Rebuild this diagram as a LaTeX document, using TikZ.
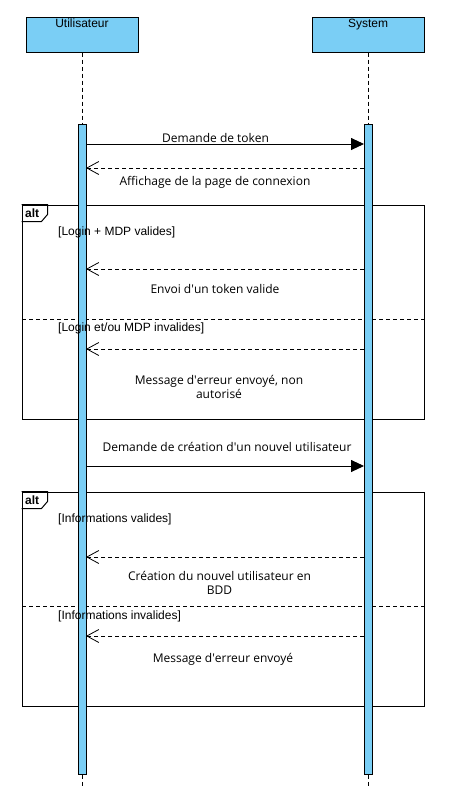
\documentclass[tikz,border=0pt]{standalone}
\usepackage{fontspec}
\setmainfont{Open Sans}
\newfontfamily\arialfont{Liberation Sans}
\usetikzlibrary{arrows.meta}
\definecolor{barblue}{RGB}{122,206,245}
\tikzset{
  actor/.style={draw, fill=barblue, minimum width=112pt, minimum height=35pt, inner sep=0pt, line width=1pt},
  actorlbl/.style={anchor=north, inner sep=2.5pt, font=\arialfont\fontsize{12}{14}\selectfont},
  actbar/.style={draw, fill=barblue, minimum width=8pt, minimum height=650pt, inner sep=0pt, line width=0.8pt},
  life/.style={dashed, dash pattern=on 4pt off 3pt, line width=0.8pt},
  call/.style={line width=0.9pt, -{Triangle[length=13pt,width=12pt]}},
  reply/.style={line width=0.8pt, dash pattern=on 4pt off 3pt, -{Straight Barb[length=12pt,width=13pt,line width=0.8pt]}},
  msglbl/.style={inner sep=0pt, align=center, font=\fontsize{12}{14}\selectfont},
  guard/.style={anchor=west, inner sep=0pt, font=\arialfont\fontsize{12}{14}\selectfont},
  frame/.style={draw, line width=1pt},
  sep/.style={line width=0.8pt, dash pattern=on 4pt off 3pt}
}
\begin{document}
\begin{tikzpicture}[x=1pt, y=-1pt]
    \useasboundingbox (0,0) rectangle (453,811);
    % actors
    \node[actor] (user) at (82,34.5) {};
    \node[actorlbl] at (user.north) {Utilisateur};
    \node[actor] (sys) at (368,34.5) {};
    \node[actorlbl] at (sys.north) {System};
    % alt frames (drawn first, bars on top)
    \node[frame, minimum width=402pt, minimum height=214pt, inner sep=0pt] (alt1) at (223,312) {};
    \node[frame, minimum width=402pt, minimum height=214pt, inner sep=0pt] (alt2) at (223,599) {};
    \draw[line width=1pt] (alt1.north west) -- ++(26,0) -- ++(0,10) -- ++(-6,7) -- ++(-20,0);
    \node[anchor=west, inner sep=0pt, font=\arialfont\bfseries\fontsize{12}{14}\selectfont] at (25,213.5) {alt};
    \draw[line width=1pt] (alt2.north west) -- ++(26,0) -- ++(0,10) -- ++(-6,7) -- ++(-20,0);
    \node[anchor=west, inner sep=0pt, font=\arialfont\bfseries\fontsize{12}{14}\selectfont] at (25,500.5) {alt};
    \coordinate (sep1l) at (22,319);
    \coordinate (sep1r) at (424,319);
    \draw[sep] (sep1l) -- (sep1r);
    \coordinate (sep2l) at (22,606);
    \coordinate (sep2r) at (424,606);
    \draw[sep] (sep2l) -- (sep2r);
    % lifelines and activation bars
    \node[actbar] (ubar) at (82,449.5) {};
    \node[actbar] (sbar) at (368,449.5) {};
    \coordinate (uend) at (82,786);
    \coordinate (send) at (368,786);
    \draw[life] (user.south) -- (ubar.north);
    \draw[life] (sys.south) -- (sbar.north);
    \draw[life] (ubar.south) -- (uend);
    \draw[life] (sbar.south) -- (send);
    % messages
    \coordinate (u1) at (86,144);  \coordinate (s1) at (364,144);
    \coordinate (u2) at (86,168);  \coordinate (s2) at (364,168);
    \coordinate (u3) at (86,269);  \coordinate (s3) at (364,269);
    \coordinate (u4) at (86,349);  \coordinate (s4) at (364,349);
    \coordinate (u5) at (86,466);  \coordinate (s5) at (364,466);
    \coordinate (u6) at (86,557);  \coordinate (s6) at (364,557);
    \coordinate (u7) at (86,636);  \coordinate (s7) at (364,636);
    \draw[call] (u1) -- (s1);
    \node[msglbl] (tok) at (215.5,138) {Demande de token};
    \draw[reply] (s2) -- (u2);
    \node[msglbl] (conn) at (215,182) {Affichage de la page de connexion};
    \node[guard] (g1) at (58,232) {[Login + MDP valides]};
    \draw[reply] (s3) -- (u3);
    \node[msglbl] (valid) at (215,289) {Envoi d\textquotesingle un token valide};
    \node[guard] (g2) at (58,328) {[Login et/ou MDP invalides]};
    \draw[reply] (s4) -- (u4);
    \node[msglbl] (err1) at (219,387) {Message d\textquotesingle erreur envoyé, non\\autorisé};
    \draw[call] (u5) -- (s5);
    \node[msglbl] (creat) at (227,447) {Demande de création d\textquotesingle un nouvel utilisateur};
    \node[guard] (g3) at (58,519) {[Informations valides]};
    \draw[reply] (s6) -- (u6);
    \node[msglbl] (bdd) at (219.5,583) {Création du nouvel utilisateur en\\BDD};
    \node[guard] (g4) at (58,616) {[Informations invalides]};
    \draw[reply] (s7) -- (u7);
    \node[msglbl] (err2) at (223,659) {Message d\textquotesingle erreur envoyé};
\end{tikzpicture}
\end{document}
